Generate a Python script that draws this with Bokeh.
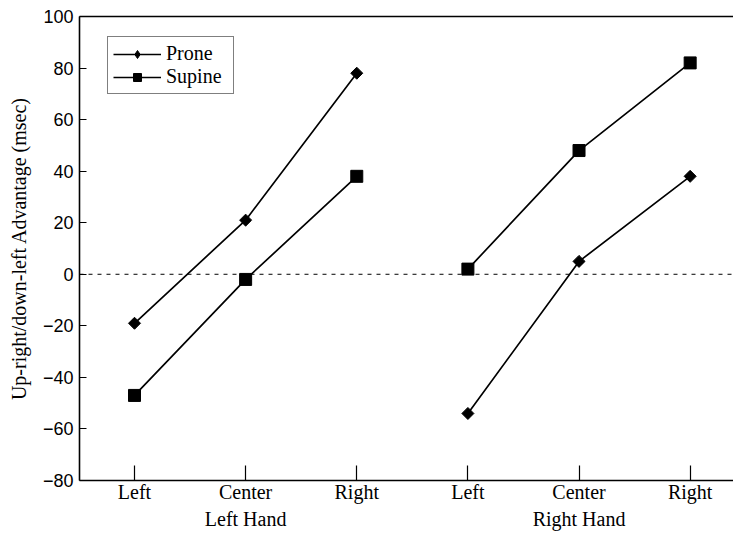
import math
from bokeh.plotting import figure
from bokeh.models import (Range1d, FixedTicker, LinearAxis, Span, Legend, LegendItem)
from bokeh.embed import file_html
from bokeh.resources import INLINE

# ---- data ----
conditions = ["Left", "Center", "Right"]
hands = ["Left Hand", "Right Hand"]
prone_left_hand = [-19, 21, 78]
prone_right_hand = [-54, 5, 38]
supine_left_hand = [-47, -2, 38]
supine_right_hand = [2, 48, 82]
y_ticks = [-80, -60, -40, -20, 0, 20, 40, 60, 80, 100]

x_left = [1, 2, 3]
x_right = [4, 5, 6]

p = figure(width=733, height=533, output_backend="svg", toolbar_location=None,
           x_range=Range1d(0.505, 6.39), y_range=Range1d(-80, 100),
           min_border_left=79, min_border_right=0, min_border_top=16, min_border_bottom=53,
           x_axis_location=None, y_axis_location=None)
p.grid.visible = False
p.outline_line_color = None
p.background_fill_color = "white"
p.border_fill_color = "white"

AX_W = 1.6
serif = "Liberation Serif"
sans = "Liberation Sans"

# y axis
ya = LinearAxis(ticker=FixedTicker(ticks=y_ticks))
ya.major_label_overrides = {t: (str(t).replace("-", "\u2212")) for t in y_ticks}
ya.major_tick_in = 7
ya.major_tick_out = 0
ya.minor_tick_line_color = None
ya.axis_line_width = AX_W
ya.major_tick_line_width = 1.2
ya.major_label_text_font = sans
ya.major_label_text_font_size = "18px"
ya.major_label_text_color = "black"
ya.major_label_standoff = 6
ya.axis_label = "Up-right/down-left Advantage (msec)"
ya.axis_label_text_font = serif
ya.axis_label_text_font_style = "normal"
ya.axis_label_text_font_size = "20px"
ya.axis_label_text_color = "black"
ya.axis_label_standoff = 10
p.add_layout(ya, "left")

# x axis with condition labels
xa = LinearAxis(ticker=FixedTicker(ticks=x_left + x_right))
xa.major_label_overrides = {x: c for x, c in zip(x_left + x_right, conditions * 2)}
xa.major_tick_in = 15
xa.major_tick_out = 0
xa.minor_tick_line_color = None
xa.axis_line_width = AX_W
xa.major_tick_line_width = 1.2
xa.major_label_text_font = serif
xa.major_label_text_font_size = "20px"
xa.major_label_text_color = "black"
xa.major_label_standoff = 0
p.add_layout(xa, "below")

# group labels (second axis row)
ga = LinearAxis(ticker=FixedTicker(ticks=[2, 5]))
ga.major_label_overrides = {2: hands[0], 5: hands[1]}
ga.axis_line_color = None
ga.major_tick_line_color = None
ga.minor_tick_line_color = None
ga.major_tick_in = 0
ga.major_tick_out = 0
ga.major_label_text_font = serif
ga.major_label_text_font_size = "20px"
ga.major_label_text_color = "black"
ga.major_label_standoff = 2
p.add_layout(ga, "below")

# top border
ta = LinearAxis(ticker=FixedTicker(ticks=[]))
ta.axis_line_width = AX_W
ta.major_tick_line_color = None
ta.minor_tick_line_color = None
ta.major_label_text_font_size = "0px"
p.add_layout(ta, "above")

# zero line
p.add_layout(Span(location=0, dimension="width", line_color="black",
                  line_dash="4 5", line_width=1))

LW = 1.7
pl1 = p.line(x_left, prone_left_hand, line_color="black", line_width=LW)
pl2 = p.line(x_right, prone_right_hand, line_color="black", line_width=LW)
pm = p.scatter(x_left + x_right, prone_left_hand + prone_right_hand, marker="square",
               angle=math.pi / 4, size=8.5, fill_color="black", line_color="black")
sl1 = p.line(x_left, supine_left_hand, line_color="black", line_width=LW)
sl2 = p.line(x_right, supine_right_hand, line_color="black", line_width=LW)
sm = p.scatter(x_left + x_right, supine_left_hand + supine_right_hand, marker="square",
               size=12, fill_color="black", line_color="black")
# legend proxy for the diamond (no visible points)
pm_legend = p.scatter([float("nan")], [float("nan")], marker="diamond", size=15,
                      fill_color="black", line_color="black")

legend = Legend(items=[LegendItem(label="Prone", renderers=[pl1, pm_legend]),
                       LegendItem(label="Supine", renderers=[sl1, sm])],
                location=(28, 386))
legend.border_line_color = "black"
legend.border_line_width = 1
legend.background_fill_alpha = 1
legend.label_text_font = serif
legend.label_text_font_size = "20px"
legend.label_text_color = "black"
legend.glyph_width = 48
legend.glyph_height = 20
legend.label_standoff = 5
legend.label_width = 62
legend.padding = 5
legend.spacing = 0
legend.margin = 0
legend.label_height = 20
p.add_layout(legend, "center")

open("out.html", "w").write(file_html(p, INLINE))
